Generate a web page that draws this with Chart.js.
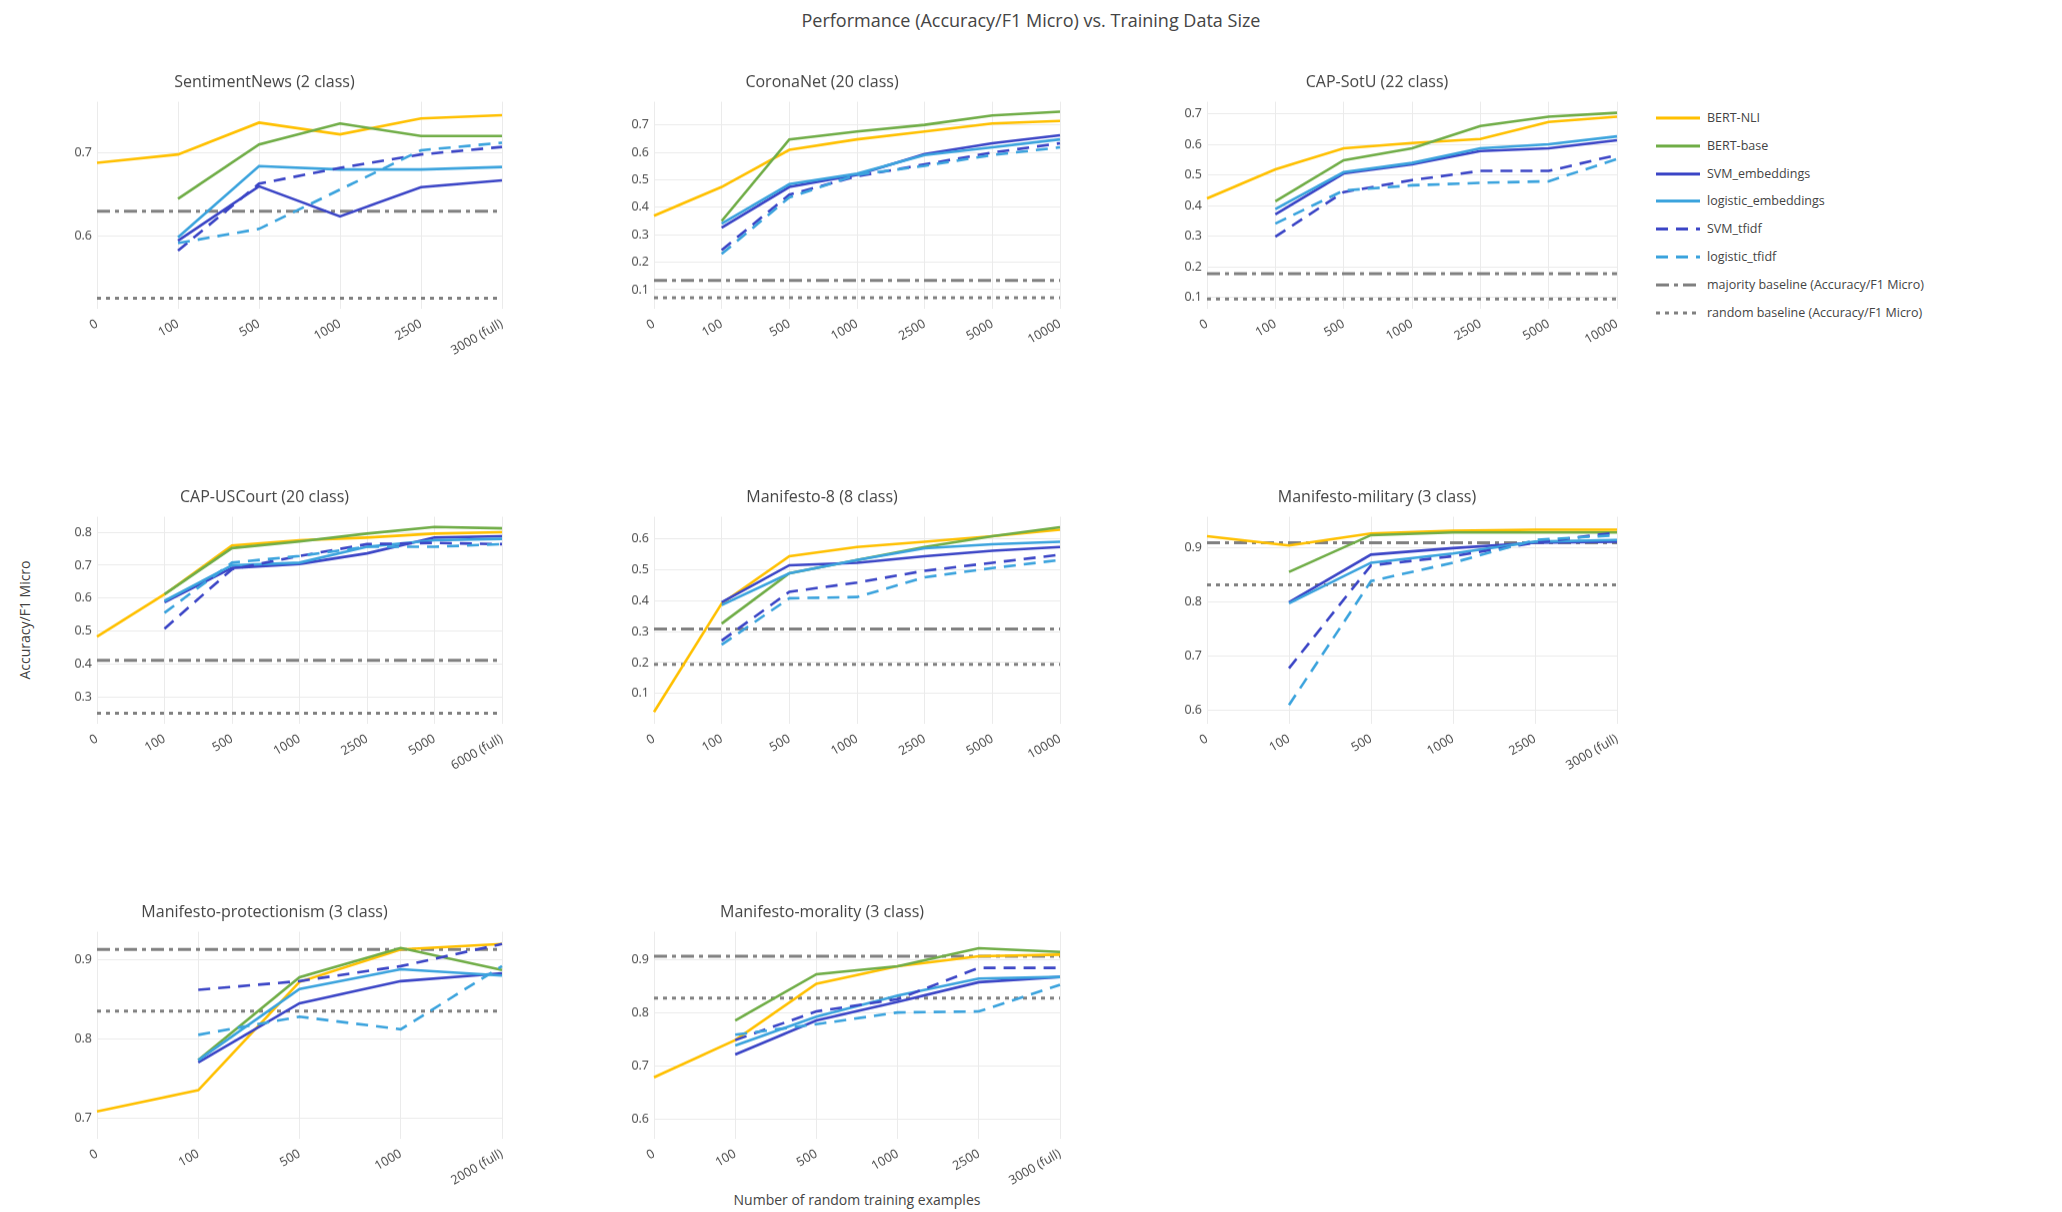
<!DOCTYPE html>
<html>
<head>
<meta charset="utf-8">
<script src="https://cdn.jsdelivr.net/npm/chart.js@4.4.1/dist/chart.umd.min.js"></script>
<style>
  html, body { margin: 0; padding: 0; background: #ffffff; }
  body { width: 2062px; height: 1212px; position: relative; overflow: hidden;
         font-family: "Open Sans", "DejaVu Sans", sans-serif; color: #444444; }
  .pane { position: absolute; }
  #mainTitle { position: absolute; left: 0; top: 8px; width: 2062px; text-align: center; font-size: 18px; }
  #yTitle { position: absolute; left: 24px; top: 620px; transform: translate(-50%, -50%) rotate(-90deg);
            font-size: 14px; white-space: nowrap; }
  #xTitle { position: absolute; left: 857px; top: 1199px; transform: translate(-50%, -50%);
            font-size: 14px; white-space: nowrap; }
  #legend { position: absolute; left: 1656px; top: 108px; font-size: 12.5px; }
  .item { position: absolute; left: 0; height: 20px; white-space: nowrap; }
  .item svg { position: absolute; left: 0; top: 6px; }
  .item span { position: absolute; left: 51px; top: 1px; }
</style>
</head>
<body>
<div id="mainTitle"></div>
<div id="yTitle"></div>
<div id="xTitle"></div>
<div id="legend"></div>
<script>
// ---- text ----
const mainTitle = "Performance (Accuracy/F1 Micro) vs. Training Data Size";
const yAxisTitle = "Accuracy/F1 Micro";
const xAxisTitle = "Number of random training examples";
const seriesNames = ["BERT-NLI", "BERT-base", "SVM_embeddings", "logistic_embeddings", "SVM_tfidf", "logistic_tfidf"];
const baselineNames = ["majority baseline (Accuracy/F1 Micro)", "random baseline (Accuracy/F1 Micro)"];
const panelTitles = ["SentimentNews (2 class)", "CoronaNet (20 class)", "CAP-SotU (22 class)", "CAP-USCourt (20 class)",
                     "Manifesto-8 (8 class)", "Manifesto-military (3 class)", "Manifesto-protectionism (3 class)",
                     "Manifesto-morality (3 class)"];

// ---- training-set sizes on each x axis ----
const sizesFull7 = ["0", "100", "500", "1000", "2500", "5000", "10000"];
const sizesP1 = ["0", "100", "500", "1000", "2500", "3000 (full)"];
const sizesP4 = ["0", "100", "500", "1000", "2500", "5000", "6000 (full)"];
const sizesP6 = ["0", "100", "500", "1000", "2500", "3000 (full)"];
const sizesP7 = ["0", "100", "500", "1000", "2000 (full)"];
const sizesP8 = ["0", "100", "500", "1000", "2500", "3000 (full)"];

// ---- scores per panel: rows follow seriesNames ----
const p1 = [
  [0.688, 0.698, 0.736, 0.722, 0.741, 0.745],
  [null, 0.645, 0.710, 0.735, 0.720, 0.720],
  [null, 0.595, 0.660, 0.624, 0.659, 0.667],
  [null, 0.599, 0.684, 0.680, 0.680, 0.683],
  [null, 0.583, 0.663, 0.682, 0.698, 0.707],
  [null, 0.592, 0.609, 0.656, 0.703, 0.712]
];
const p2 = [
  [0.369, 0.474, 0.609, 0.647, 0.676, 0.705, 0.714],
  [null, 0.350, 0.647, 0.676, 0.700, 0.734, 0.748],
  [null, 0.326, 0.474, 0.518, 0.594, 0.633, 0.662],
  [null, 0.340, 0.484, 0.522, 0.590, 0.618, 0.647],
  [null, 0.244, 0.446, 0.513, 0.556, 0.599, 0.633],
  [null, 0.230, 0.436, 0.518, 0.551, 0.590, 0.618]
];
const p3 = [
  [0.424, 0.519, 0.588, 0.605, 0.618, 0.674, 0.691],
  [null, 0.415, 0.549, 0.588, 0.661, 0.691, 0.704],
  [null, 0.372, 0.506, 0.536, 0.579, 0.588, 0.614],
  [null, 0.389, 0.510, 0.540, 0.588, 0.601, 0.627],
  [null, 0.299, 0.445, 0.484, 0.514, 0.514, 0.566],
  [null, 0.342, 0.450, 0.467, 0.475, 0.480, 0.553]
];
const p4 = [
  [0.484, 0.612, 0.760, 0.776, 0.784, 0.796, 0.800],
  [null, 0.612, 0.752, 0.772, 0.796, 0.816, 0.812],
  [null, 0.588, 0.692, 0.704, 0.736, 0.784, 0.788],
  [null, 0.592, 0.700, 0.708, 0.756, 0.776, 0.780],
  [null, 0.508, 0.688, 0.728, 0.764, 0.768, 0.764],
  [null, 0.556, 0.708, 0.728, 0.756, 0.756, 0.764]
];
const p5 = [
  [0.040, 0.391, 0.544, 0.574, 0.591, 0.609, 0.630],
  [null, 0.326, 0.489, 0.532, 0.574, 0.609, 0.638],
  [null, 0.395, 0.515, 0.523, 0.544, 0.562, 0.574],
  [null, 0.386, 0.489, 0.532, 0.570, 0.583, 0.591],
  [null, 0.271, 0.429, 0.459, 0.497, 0.523, 0.549],
  [null, 0.258, 0.408, 0.412, 0.476, 0.506, 0.532]
];
const p6 = [
  [0.922, 0.905, 0.927, 0.932, 0.934, 0.934],
  [null, 0.856, 0.924, 0.929, 0.929, 0.929],
  [null, 0.800, 0.888, 0.900, 0.910, 0.912],
  [null, 0.798, 0.873, 0.890, 0.912, 0.915],
  [null, 0.678, 0.868, 0.885, 0.910, 0.929],
  [null, 0.610, 0.839, 0.873, 0.915, 0.924]
];
const p7 = [
  [0.708, 0.735, 0.872, 0.913, 0.920],
  [null, 0.773, 0.878, 0.915, 0.887],
  [null, 0.770, 0.845, 0.873, 0.883],
  [null, 0.773, 0.863, 0.888, 0.880],
  [null, 0.862, 0.873, 0.892, 0.920],
  [null, 0.805, 0.828, 0.812, 0.892]
];
const p8 = [
  [0.679, 0.749, 0.855, 0.888, 0.907, 0.910],
  [null, 0.786, 0.873, 0.888, 0.922, 0.915],
  [null, 0.722, 0.786, 0.821, 0.858, 0.868],
  [null, 0.739, 0.793, 0.833, 0.865, 0.868],
  [null, 0.749, 0.803, 0.826, 0.885, 0.885],
  [null, 0.759, 0.779, 0.801, 0.803, 0.853]
];

// majority / random baselines per panel
const majorityBaseline = [0.630, 0.134, 0.178, 0.412, 0.309, 0.910, 0.913, 0.907];
const randomBaseline   = [0.526, 0.071, 0.096, 0.252, 0.194, 0.832, 0.835, 0.828];

// y-axis ranges per panel
const yMin = [0.514, 0.032, 0.065, 0.221, 0.003, 0.576, 0.674, 0.564];
const yMax = [0.761, 0.784, 0.740, 0.847, 0.672, 0.958, 0.9355, 0.953];

// ---- styling ----
const seriesColors = ["#FFC000", "#70AD47", "#3B45C6", "#3BA3DD", "#3B45C6", "#3BA3DD"];
const seriesDash = [[], [], [], [], [12, 8], [12, 8]];
const baseColor = "#808080";
const baseDash = [[13, 5, 4, 5], [4, 5]];

const colLeft = [97, 654, 1207];
const colWidth = [405, 406, 410];
const rowTop = [102, 517, 932];
const plotH = 206;
const yAxisW = 70, sidePad = 70, titleBlock = 38.6, xAxisH = 80;

const panelSizes = [sizesP1, sizesFull7, sizesFull7, sizesP4, sizesFull7, sizesP6, sizesP7, sizesP8];
const panelValues = [p1, p2, p3, p4, p5, p6, p7, p8];
const panelPos = [[0,0],[1,0],[2,0],[0,1],[1,1],[2,1],[0,2],[1,2]];

const fontFamily = '"Open Sans", "DejaVu Sans", sans-serif';
Chart.defaults.font.family = fontFamily;
Chart.defaults.color = "#444444";

document.getElementById("mainTitle").textContent = mainTitle;
document.getElementById("yTitle").textContent = yAxisTitle;
document.getElementById("xTitle").textContent = xAxisTitle;

panelValues.forEach((rows, i) => {
  const [c, r] = panelPos[i];
  const L = colLeft[c], W = colWidth[c], T = rowTop[r];
  const div = document.createElement("div");
  div.className = "pane";
  const cw = W + yAxisW + sidePad, ch = titleBlock + plotH + xAxisH;
  div.style.left = (L - yAxisW) + "px";
  div.style.top = (T - titleBlock) + "px";
  div.style.width = cw + "px";
  div.style.height = ch + "px";
  const cv = document.createElement("canvas");
  div.appendChild(cv);
  document.body.appendChild(div);

  const labels = panelSizes[i];
  const datasets = rows.map((vals, k) => ({
    label: seriesNames[k],
    data: vals,
    borderColor: seriesColors[k],
    borderWidth: 2.6,
    borderDash: seriesDash[k],
    pointRadius: 0,
    fill: false,
    tension: 0,
    order: 10 - k
  }));
  [majorityBaseline[i], randomBaseline[i]].forEach((v, k) => {
    datasets.push({
      label: baselineNames[k],
      data: labels.map(() => v),
      borderColor: baseColor,
      borderWidth: 3,
      borderDash: baseDash[k],
      pointRadius: 0,
      fill: false,
      order: 20
    });
  });

  new Chart(cv, {
    type: "line",
    data: { labels, datasets },
    options: {
      responsive: true,
      maintainAspectRatio: false,
      animation: false,
      layout: { padding: { left: 0, right: sidePad, top: 0, bottom: 0 } },
      plugins: {
        legend: { display: false },
        tooltip: { enabled: false },
        title: {
          display: true,
          text: panelTitles[i],
          color: "#444444",
          font: { size: 16, weight: "normal", lineHeight: 1.2 },
          padding: { top: 10, bottom: 9.4 }
        }
      },
      scales: {
        x: {
          type: "category",
          offset: false,
          grid: { color: "#ebebeb", lineWidth: 1, drawTicks: false },
          border: { display: false },
          ticks: { minRotation: 30, maxRotation: 30, autoSkip: false, padding: 8,
                   font: { size: 12.5 }, color: "#444444" },
          afterFit: s => { s.height = xAxisH; }
        },
        y: {
          min: yMin[i],
          max: yMax[i],
          grid: { color: "#ebebeb", lineWidth: 1, drawTicks: false },
          border: { display: false },
          ticks: { stepSize: 0.1, includeBounds: false, padding: 5, font: { size: 12.5 },
                   color: "#444444", callback: v => Number(v).toFixed(1) },
          afterFit: s => { s.width = yAxisW; }
        }
      }
    }
  });
});

// legend
const legend = document.getElementById("legend");
const legendRows = seriesNames.map((n, k) => ({ name: n, color: seriesColors[k], dash: seriesDash[k] }))
  .concat(baselineNames.map((n, k) => ({ name: n, color: baseColor, dash: baseDash[k] })));
legendRows.forEach((row, k) => {
  const item = document.createElement("div");
  item.className = "item";
  item.style.top = (k * 27.8) + "px";
  const dash = row.dash.length ? ` stroke-dasharray="${row.dash.join(",")}"` : "";
  item.innerHTML = `<svg width="44" height="8"><line x1="0" y1="4" x2="44" y2="4" stroke="${row.color}" stroke-width="3"${dash}/></svg>`;
  const sp = document.createElement("span");
  sp.textContent = row.name;
  item.appendChild(sp);
  legend.appendChild(item);
});
</script>
</body>
</html>
